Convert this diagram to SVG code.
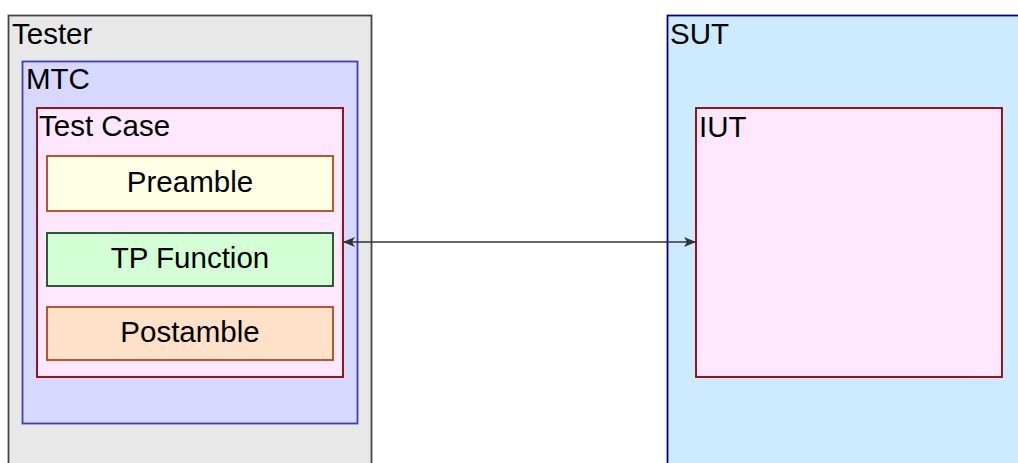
<svg xmlns="http://www.w3.org/2000/svg" width="1018" height="463" viewBox="0 0 1018 463">
<style>
text{font-family:"Liberation Sans",Arial,sans-serif;font-size:29.5px;fill:#000}
.c{text-anchor:middle}
rect{stroke-width:1.8}
</style>
<defs>
<marker id="ah" markerWidth="12" markerHeight="10" refX="11" refY="5" orient="auto-start-reverse" markerUnits="userSpaceOnUse">
<path d="M0,0 L12,5 L0,10 L3,5 Z" fill="#333"/>
</marker>
</defs>
<rect width="1018" height="463" fill="#fff" stroke="none"/>
<g id="tester"><rect x="8.5" y="15.5" width="363" height="460" fill="#e8e8e8" stroke="#444"/><text x="12" y="44">Tester</text></g>
<g id="mtc"><rect x="22.5" y="61.5" width="335" height="362" fill="#d8d8ff" stroke="#4040b0"/><text x="26" y="89">MTC</text></g>
<g id="testcase"><rect x="37" y="108" width="306" height="269" fill="#ffe8ff" stroke="#8b0000"/><text x="39" y="136">Test Case</text></g>
<g id="preamble"><rect x="47" y="156" width="286" height="55" fill="#ffffe6" stroke="#b5461a"/><text class="c" x="190" y="192">Preamble</text></g>
<g id="tpfunction"><rect x="47" y="233" width="286" height="53" fill="#d4ffd4" stroke="#1a4a1a"/><text class="c" x="190" y="268">TP Function</text></g>
<g id="postamble"><rect x="47" y="307" width="286" height="53" fill="#ffe0c8" stroke="#b5461a"/><text class="c" x="190" y="342">Postamble</text></g>
<g id="sut"><rect x="667.5" y="15.5" width="360" height="460" fill="#cdeaff" stroke="#00008b"/><text x="670" y="44">SUT</text></g>
<g id="iut"><rect x="696" y="108" width="306" height="269" fill="#ffe8ff" stroke="#8b0000"/><text x="699" y="137">IUT</text></g>
<g id="connectors"><line x1="344" y1="242" x2="695" y2="242" stroke="#333" stroke-width="1.3" marker-start="url(#ah)" marker-end="url(#ah)"/></g>
</svg>
